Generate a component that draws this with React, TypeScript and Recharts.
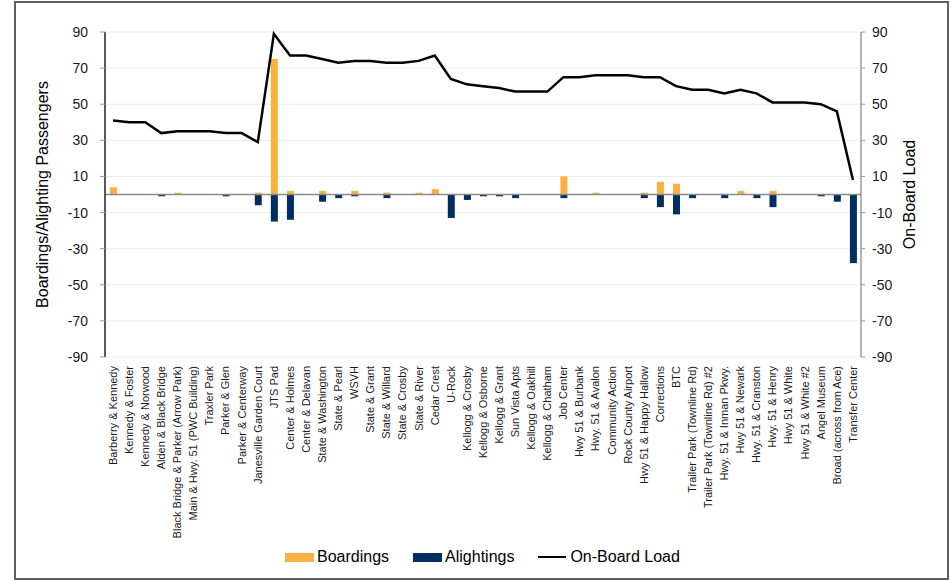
import React from 'react';
import {
  ComposedChart,
  Bar,
  Line,
  XAxis,
  YAxis,
  CartesianGrid,
  ReferenceLine,
  Legend,
} from 'recharts';

const categories = [
  'Barberry & Kennedy',
  'Kennedy & Foster',
  'Kennedy & Norwood',
  'Alden & Black Bridge',
  'Black Bridge & Parker (Arrow Park)',
  'Main & Hwy. 51 (PWC Building)',
  'Traxler Park',
  'Parker & Glen',
  'Parker & Centerway',
  'Janesville Garden Court',
  'JTS Pad',
  'Center & Holmes',
  'Center & Delavan',
  'State & Washington',
  'State & Pearl',
  'WSVH',
  'State & Grant',
  'State & Willard',
  'State & Crosby',
  'State & River',
  'Cedar Crest',
  'U-Rock',
  'Kellogg & Crosby',
  'Kellogg & Osborne',
  'Kellogg & Grant',
  'Sun Vista Apts',
  'Kellogg & Oakhill',
  'Kellogg & Chatham',
  'Job Center',
  'Hwy 51 & Burbank',
  'Hwy. 51 & Avalon',
  'Community Action',
  'Rock County Airport',
  'Hwy 51 & Happy Hallow',
  'Corrections',
  'BTC',
  'Trailer Park (Townline Rd)',
  'Trailer Park (Townline Rd) #2',
  'Hwy. 51 & Inman Pkwy.',
  'Hwy 51 & Newark',
  'Hwy. 51 & Cranston',
  'Hwy. 51 & Henry',
  'Hwy 51 & White',
  'Hwy 51 & White #2',
  'Angel Museum',
  'Broad (across from Ace)',
  'Transfer Center',
];

const boardings = [
  4, 0, 0, 0, 1, 0, 0, 0, 0, 1, 75, 2, 0, 2, 0, 2, 0, 1, 0, 1, 3, 0, 0, 0, 0, 0, 0, 0, 10, 0, 1, 0, 0, 1, 7, 6, 0,
  0, 0, 2, 0, 2, 0, 0, 0, 0, 0,
];

const alightings = [
  0, 0, 0, -1, 0, 0, 0, -1, 0, -6, -15, -14, 0, -4, -2, -1, 0, -2, 0, 0, 0, -13, -3, -1, -1, -2, 0, 0, -2, 0, 0, 0,
  0, -2, -7, -11, -2, 0, -2, 0, -2, -7, 0, 0, -1, -4, -38,
];

const onBoardLoad = [
  41, 40, 40, 34, 35, 35, 35, 34, 34, 29, 89, 77, 77, 75, 73, 74, 74, 73, 73, 74, 77, 64, 61, 60, 59, 57, 57, 57, 65,
  65, 66, 66, 66, 65, 65, 60, 58, 58, 56, 58, 56, 51, 51, 51, 50, 46, 8,
];

const yTicks = [-90, -70, -50, -30, -10, 10, 30, 50, 70, 90];

const data = categories.map((name, i) => ({
  name,
  boardings: boardings[i],
  alightings: alightings[i],
  load: onBoardLoad[i],
}));

const FONT = '"Liberation Sans", Arial, Helvetica, sans-serif';
const ORANGE = '#FBB040';
const NAVY = '#002D62';

const CategoryTick = (props: any) => {
  const { x, y, payload } = props;
  return (
    <text
      x={x}
      y={y}
      dy="0.35em"
      textAnchor="end"
      transform={`rotate(-90, ${x}, ${y})`}
      fontSize={11}
      fontFamily={FONT}
      fill="#1a1a1a"
    >
      {payload.value}
    </text>
  );
};

const LeftTitle = (props: any) => {
  const vb = props.viewBox || {};
  const cx = (vb.x || 0) + 42;
  const cy = (vb.y || 0) + (vb.height || 0) / 2;
  return (
    <text
      x={cx}
      y={cy}
      textAnchor="middle"
      dominantBaseline="central"
      transform={`rotate(-90, ${cx}, ${cy})`}
      fontSize={16}
      fontFamily={FONT}
      fill="#000"
    >
      Boardings/Alighting Passengers
    </text>
  );
};

const RightTitle = (props: any) => {
  const vb = props.viewBox || {};
  const cx = (vb.x || 0) + 48;
  const cy = (vb.y || 0) + (vb.height || 0) / 2;
  return (
    <text
      x={cx}
      y={cy}
      textAnchor="middle"
      dominantBaseline="central"
      transform={`rotate(-90, ${cx}, ${cy})`}
      fontSize={16}
      fontFamily={FONT}
      fill="#000"
    >
      On-Board Load
    </text>
  );
};

const renderLegend = () => (
  <div
    style={{
      display: 'flex',
      alignItems: 'center',
      gap: 24,
      fontSize: 16,
      lineHeight: '18px',
      fontFamily: FONT,
      color: '#000',
      whiteSpace: 'nowrap',
    }}
  >
    <div style={{ display: 'flex', alignItems: 'center' }}>
      <div style={{ width: 29, height: 9, background: ORANGE, marginRight: 3 }} />
      <span>Boardings</span>
    </div>
    <div style={{ display: 'flex', alignItems: 'center' }}>
      <div style={{ width: 29, height: 9, background: NAVY, marginRight: 3 }} />
      <span>Alightings</span>
    </div>
    <div style={{ display: 'flex', alignItems: 'center' }}>
      <div style={{ width: 28, height: 2.5, background: '#000', marginRight: 4 }} />
      <span>On-Board Load</span>
    </div>
  </div>
);

export default function App() {
  return (
    <div
      style={{
        position: 'absolute',
        left: 0,
        top: 0,
        width: 952,
        height: 580,
        background: '#fff',
        fontFamily: FONT,
        overflow: 'hidden',
      }}
    >
      <div style={{ position: 'absolute', left: 0, top: 0 }}>
        <ComposedChart
          width={952}
          height={580}
          data={data}
          stackOffset="sign"
          margin={{ top: 32, right: 0, bottom: 33, left: 0 }}
        >
          <CartesianGrid yAxisId="left" horizontal vertical={false} stroke="#ececec" strokeWidth={1} />
          <XAxis
            dataKey="name"
            interval={0}
            tick={<CategoryTick />}
            tickLine={false}
            axisLine={false}
            tickSize={0}
            tickMargin={9}
            height={190}
          />
          <YAxis
            yAxisId="left"
            domain={[-90, 90]}
            ticks={yTicks}
            width={105}
            tickSize={5}
            tickMargin={12}
            axisLine={{ stroke: '#000', strokeWidth: 1.3 }}
            tickLine={{ stroke: '#9a9a9a' }}
            tick={{ fontSize: 14, fill: '#1a1a1a', fontFamily: FONT }}
            label={{ content: <LeftTitle /> }}
          />
          <YAxis
            yAxisId="right"
            orientation="right"
            domain={[-90, 90]}
            ticks={yTicks}
            width={91}
            tickSize={4}
            tickMargin={7}
            axisLine={{ stroke: '#8a8a8a', strokeWidth: 1.3 }}
            tickLine={{ stroke: '#9a9a9a' }}
            tick={{ fontSize: 14, fill: '#1a1a1a', fontFamily: FONT }}
            label={{ content: <RightTitle /> }}
          />
          <ReferenceLine yAxisId="left" y={0} stroke="#8a8a8a" strokeWidth={1.5} />
          <Bar
            yAxisId="left"
            dataKey="boardings"
            stackId="s"
            fill={ORANGE}
            barSize={7}
            isAnimationActive={false}
          />
          <Bar
            yAxisId="left"
            dataKey="alightings"
            stackId="s"
            fill={NAVY}
            barSize={7}
            isAnimationActive={false}
          />
          <Line
            yAxisId="right"
            type="linear"
            dataKey="load"
            stroke="#000"
            strokeWidth={2.5}
            dot={false}
            activeDot={false}
            isAnimationActive={false}
          />
          <Legend
            layout="horizontal"
            verticalAlign="middle"
            align="center"
            content={renderLegend}
            wrapperStyle={{ position: 'absolute', top: 548, left: 285, width: 'auto' }}
          />
        </ComposedChart>
      </div>
      <div
        style={{
          position: 'absolute',
          left: 14,
          top: 1,
          width: 935,
          height: 579,
          border: '2px solid #5f5f5f',
          boxSizing: 'border-box',
          pointerEvents: 'none',
        }}
      />
    </div>
  );
}
